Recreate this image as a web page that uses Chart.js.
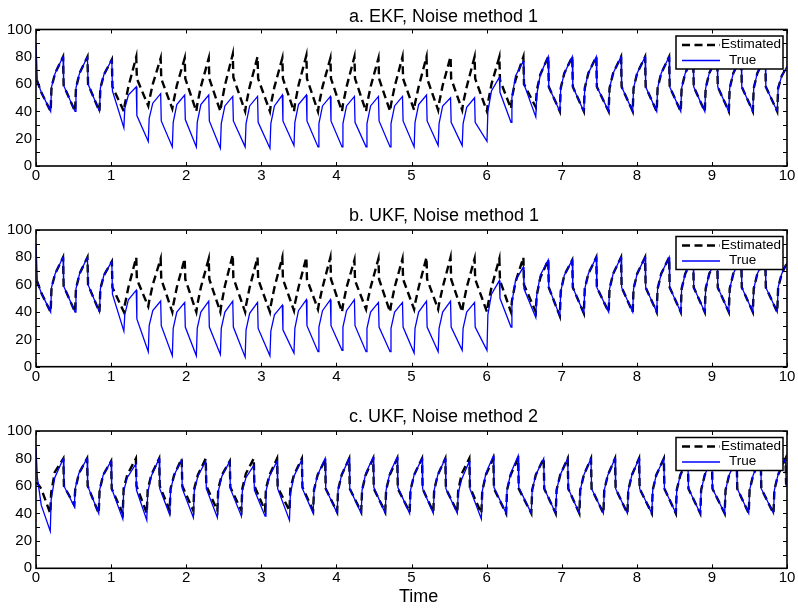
<!DOCTYPE html>
<html>
<head>
<meta charset="utf-8">
<script src="https://cdn.jsdelivr.net/npm/chart.js@4.4.1/dist/chart.umd.min.js"></script>
<style>
  html, body { margin: 0; padding: 0; background: #fff; }
  #wrap { position: relative; width: 798px; height: 608px; overflow: hidden; }
  canvas { position: absolute; left: 0; }
  .cap { position: absolute; font: 18px 'Liberation Sans', Arial, sans-serif; line-height: 18px; color: #000; white-space: nowrap; }
</style>
</head>
<body>
<div id="wrap">
  <canvas id="panelA" width="798" height="200" style="top:0"></canvas>
  <canvas id="panelB" width="798" height="200" style="top:200px"></canvas>
  <canvas id="panelC" width="798" height="208" style="top:400px"></canvas>
  <div class="cap" style="left:349px; top:6.5px">a. EKF, Noise method 1</div>
  <div class="cap" style="left:349px; top:206px">b. UKF, Noise method 1</div>
  <div class="cap" style="left:349px; top:406.5px">c. UKF, Noise method 2</div>
  <div class="cap" style="left:399px; top:586.5px">Time</div>
</div>
<script>
// sample times for panels a and b: per beat -> trough, kick, mid-rise, peak, drop
const timeAB = [
  0, 0.018, 0.07,
  0.195, 0.207, 0.255, 0.36, 0.368,
  0.52, 0.532, 0.58, 0.685, 0.693,
  0.845, 0.857, 0.905, 1.01, 1.018,
  1.17, 1.182, 1.23, 1.335, 1.343,
  1.495, 1.507, 1.555, 1.66, 1.668,
  1.815, 1.827, 1.875, 1.98, 1.988,
  2.135, 2.147, 2.195, 2.30, 2.308,
  2.455, 2.467, 2.515, 2.62, 2.628,
  2.785, 2.797, 2.845, 2.95, 2.958,
  3.115, 3.127, 3.175, 3.28, 3.288,
  3.435, 3.447, 3.495, 3.60, 3.608,
  3.755, 3.767, 3.815, 3.92, 3.928,
  4.075, 4.087, 4.135, 4.24, 4.248,
  4.395, 4.407, 4.455, 4.56, 4.568,
  4.715, 4.727, 4.775, 4.88, 4.888,
  5.035, 5.047, 5.095, 5.20, 5.208,
  5.355, 5.367, 5.415, 5.52, 5.528,
  5.675, 5.687, 5.735, 5.84, 5.848,
  6.005, 6.017, 6.065, 6.17, 6.178,
  6.325, 6.337, 6.385, 6.49, 6.498,
  6.655, 6.667, 6.715, 6.82, 6.828,
  6.975, 6.987, 7.035, 7.14, 7.148,
  7.295, 7.307, 7.355, 7.46, 7.468,
  7.625, 7.637, 7.685, 7.79, 7.798,
  7.945, 7.957, 8.005, 8.11, 8.118,
  8.265, 8.277, 8.325, 8.43, 8.438,
  8.585, 8.597, 8.645, 8.75, 8.758,
  8.905, 8.917, 8.965, 9.07, 9.078,
  9.225, 9.237, 9.285, 9.39, 9.398,
  9.545, 9.557, 9.605, 9.71, 9.718,
  9.87, 9.882, 9.93, 10.0
];

const estA = [
  62, 62, 54,
  40, 58, 68, 80, 59,
  40, 57, 68, 80, 60,
  40, 57, 67, 78, 58,
  40, 45, 58, 80, 64,
  44, 48, 60, 79, 64,
  42, 46, 59, 79, 64,
  40, 45, 58, 79, 64,
  40, 45, 59, 82, 65,
  40, 45, 58, 80, 64,
  40, 45, 58, 79, 64,
  40, 45, 59, 81, 64,
  40, 45, 58, 79, 64,
  40, 45, 58, 80, 64,
  40, 45, 58, 79, 64,
  40, 45, 58, 80, 64,
  41, 46, 58, 80, 64,
  41, 46, 59, 80, 64,
  41, 46, 58, 80, 64,
  40, 46, 60, 80, 63,
  42, 50, 63, 80, 60,
  43, 55, 67, 80, 58,
  40, 57, 68, 80, 58,
  40, 57, 68, 80, 58,
  40, 57, 68, 80, 58,
  40, 57, 68, 80, 58,
  40, 57, 68, 80, 58,
  40, 57, 68, 80, 58,
  40, 57, 68, 80, 58,
  40, 57, 68, 80, 58,
  40, 57, 68, 80, 58,
  40, 57, 66, 73
];

const trueA = [
  90, 62, 54,
  40, 58, 68, 80, 59,
  40, 57, 68, 80, 60,
  40, 57, 67, 78, 55,
  28, 42, 52, 58, 37,
  18, 35, 46, 53, 33,
  14, 32, 45, 52, 34,
  14, 32, 45, 52, 33,
  13, 31, 44, 51, 33,
  14, 31, 44, 51, 32,
  13, 31, 44, 52, 33,
  15, 32, 45, 52, 33,
  14, 31, 44, 51, 33,
  14, 31, 44, 51, 32,
  14, 31, 44, 51, 33,
  14, 31, 44, 51, 33,
  14, 32, 45, 52, 33,
  15, 31, 44, 50, 32,
  15, 31, 43, 50, 32,
  18, 40, 55, 65, 54,
  32, 50, 66, 77, 60,
  36, 52, 67, 80, 58,
  40, 57, 68, 80, 58,
  40, 57, 68, 80, 58,
  40, 57, 68, 80, 58,
  40, 57, 68, 80, 58,
  40, 57, 68, 80, 58,
  40, 57, 68, 80, 58,
  40, 57, 68, 80, 58,
  40, 57, 68, 80, 58,
  40, 57, 68, 80, 58,
  40, 57, 66, 73
];

const estB = [
  62, 62, 54,
  40, 58, 68, 80, 59,
  40, 57, 68, 80, 60,
  40, 57, 67, 77, 58,
  40, 45, 58, 80, 64,
  44, 48, 60, 79, 64,
  40, 45, 58, 79, 64,
  40, 45, 58, 79, 64,
  40, 45, 59, 82, 65,
  40, 45, 58, 80, 64,
  40, 45, 58, 80, 64,
  41, 46, 58, 80, 64,
  42, 46, 58, 80, 64,
  40, 45, 58, 78, 63,
  42, 46, 58, 79, 64,
  40, 45, 58, 79, 64,
  42, 46, 58, 80, 64,
  42, 46, 58, 80, 64,
  40, 45, 58, 79, 64,
  40, 45, 58, 79, 63,
  40, 48, 62, 80, 60,
  40, 52, 65, 78, 58,
  37, 55, 67, 78, 58,
  39, 57, 68, 80, 58,
  40, 57, 68, 80, 58,
  40, 57, 68, 80, 58,
  40, 57, 68, 80, 58,
  40, 57, 68, 80, 58,
  40, 57, 68, 80, 58,
  40, 57, 68, 80, 58,
  40, 57, 68, 80, 58,
  40, 58, 68, 76
];

const trueB = [
  90, 62, 54,
  40, 58, 68, 80, 59,
  40, 57, 68, 80, 60,
  40, 57, 67, 77, 53,
  26, 38, 49, 56, 35,
  11, 30, 41, 48, 30,
  8, 28, 40, 47, 29,
  8, 28, 40, 48, 29,
  9, 28, 40, 48, 29,
  7, 27, 39, 47, 28,
  8, 26, 38, 45, 27,
  10, 28, 41, 49, 30,
  11, 29, 41, 49, 30,
  12, 29, 41, 49, 30,
  11, 28, 40, 47, 29,
  11, 28, 40, 47, 29,
  10, 28, 40, 48, 29,
  11, 28, 40, 48, 29,
  12, 28, 40, 47, 29,
  12, 38, 53, 63, 50,
  29, 47, 63, 73, 57,
  36, 52, 67, 78, 58,
  37, 55, 67, 78, 58,
  39, 57, 68, 80, 58,
  40, 57, 68, 80, 58,
  40, 57, 68, 80, 58,
  40, 57, 68, 80, 58,
  40, 57, 68, 80, 58,
  40, 57, 68, 80, 58,
  40, 57, 68, 80, 58,
  40, 57, 68, 80, 58,
  40, 58, 68, 76
];

// panel c runs at a slightly faster beat, so it has its own time base
const timeC = [
  0, 0.018, 0.07,
  0.19, 0.202, 0.25, 0.364, 0.372,
  0.51, 0.522, 0.57, 0.68, 0.688,
  0.835, 0.847, 0.895, 1.0, 1.008,
  1.155, 1.167, 1.215, 1.33, 1.338,
  1.475, 1.487, 1.535, 1.64, 1.648,
  1.78, 1.792, 1.84, 1.94, 1.948,
  2.095, 2.107, 2.155, 2.26, 2.268,
  2.415, 2.427, 2.475, 2.58, 2.588,
  2.735, 2.747, 2.795, 2.90, 2.908,
  3.05, 3.062, 3.11, 3.21, 3.218,
  3.375, 3.387, 3.435, 3.54, 3.548,
  3.69, 3.702, 3.75, 3.85, 3.858,
  4.01, 4.022, 4.07, 4.17, 4.178,
  4.33, 4.342, 4.39, 4.49, 4.498,
  4.65, 4.662, 4.71, 4.81, 4.818,
  4.975, 4.987, 5.035, 5.14, 5.148,
  5.29, 5.302, 5.35, 5.45, 5.458,
  5.61, 5.622, 5.67, 5.77, 5.778,
  5.93, 5.942, 5.99, 6.09, 6.098,
  6.26, 6.272, 6.32, 6.42, 6.428,
  6.595, 6.607, 6.655, 6.76, 6.768,
  6.92, 6.932, 6.98, 7.08, 7.088,
  7.235, 7.247, 7.295, 7.39, 7.398,
  7.555, 7.567, 7.615, 7.71, 7.718,
  7.875, 7.887, 7.935, 8.03, 8.038,
  8.2, 8.212, 8.26, 8.36, 8.368,
  8.52, 8.532, 8.58, 8.68, 8.688,
  8.845, 8.857, 8.905, 9.0, 9.008,
  9.17, 9.182, 9.23, 9.33, 9.338,
  9.49, 9.502, 9.55, 9.65, 9.658,
  9.82, 9.832, 9.88, 9.98, 9.988, 10.0
];

const estC = [
  62, 62, 58,
  40, 55, 70, 80, 60,
  46, 57, 69, 80, 60,
  40, 57, 68, 78, 58,
  40, 58, 68, 80, 60,
  40, 57, 68, 80, 60,
  42, 58, 68, 80, 60,
  42, 58, 68, 80, 60,
  42, 58, 68, 78, 59,
  42, 58, 69, 80, 60,
  42, 58, 68, 80, 59,
  42, 58, 68, 80, 59,
  42, 57, 68, 79, 58,
  41, 57, 68, 80, 58,
  41, 57, 68, 80, 58,
  41, 57, 68, 80, 58,
  41, 57, 68, 80, 58,
  41, 57, 68, 80, 58,
  41, 57, 69, 80, 59,
  40, 56, 68, 80, 58,
  40, 57, 68, 80, 58,
  40, 57, 68, 80, 58,
  40, 57, 68, 80, 58,
  40, 57, 68, 80, 58,
  40, 57, 68, 80, 58,
  40, 57, 68, 80, 58,
  40, 57, 68, 80, 58,
  40, 57, 68, 80, 58,
  40, 57, 68, 80, 58,
  40, 57, 68, 80, 58,
  40, 57, 68, 80, 58,
  40, 57, 68, 80, 62, 60
];

const trueC = [
  88, 66, 46,
  27, 50, 66, 80, 60,
  45, 58, 69, 80, 60,
  40, 57, 68, 78, 58,
  36, 56, 66, 76, 57,
  35, 55, 67, 80, 58,
  39, 57, 68, 79, 58,
  37, 56, 67, 78, 58,
  37, 56, 67, 78, 58,
  38, 56, 66, 75, 57,
  38, 56, 67, 78, 58,
  35, 54, 67, 79, 58,
  40, 57, 68, 80, 58,
  40, 57, 68, 80, 58,
  40, 57, 69, 81, 59,
  40, 57, 69, 81, 59,
  40, 57, 68, 80, 58,
  40, 57, 68, 80, 58,
  40, 55, 65, 78, 58,
  36, 56, 69, 82, 59,
  40, 57, 69, 82, 59,
  40, 57, 68, 80, 58,
  40, 57, 68, 80, 58,
  40, 57, 68, 80, 58,
  40, 57, 68, 80, 58,
  40, 57, 68, 80, 58,
  40, 57, 68, 80, 58,
  40, 57, 68, 80, 58,
  40, 57, 68, 80, 58,
  40, 57, 68, 80, 58,
  40, 57, 68, 80, 58,
  40, 57, 68, 80, 62, 60
];

const timeTicks = [0, 1, 2, 3, 4, 5, 6, 7, 8, 9, 10];
const levelTicks = [0, 10, 20, 30, 40, 50, 60, 70, 80, 90, 100];
const seriesNames = ["Estimated", "True"];

Chart.defaults.font.family = "'Liberation Sans', Arial, sans-serif";
Chart.defaults.color = "#000";

const pairUp = (xs, ys) => xs.map((t, i) => ({ x: t, y: ys[i] }));

// matlab style box: frame, inward ticks on all four sides, legend in the corner
const boxAxes = {
    id: "boxAxes",
    afterDraw(chart) {
        const { ctx, chartArea: a, scales: { x, y } } = chart;
        ctx.save();

        ctx.strokeStyle = "#000";
        ctx.lineWidth = 1;
        ctx.beginPath();
        timeTicks.forEach((v) => {
            const px = Math.round(x.getPixelForValue(v)) + 0.5;
            ctx.moveTo(px, a.top); ctx.lineTo(px, a.top + 4);
            ctx.moveTo(px, a.bottom); ctx.lineTo(px, a.bottom - 4);
        });
        levelTicks.forEach((v) => {
            const py = Math.round(y.getPixelForValue(v)) + 0.5;
            ctx.moveTo(a.left, py); ctx.lineTo(a.left + 4, py);
            ctx.moveTo(a.right, py); ctx.lineTo(a.right - 4, py);
        });
        ctx.stroke();

        ctx.lineWidth = 1.6;
        ctx.strokeRect(a.left, a.top, a.right - a.left, a.bottom - a.top);

        // legend
        const w = 107, h = 33, lx = a.right - 4 - w, ly = a.top + 6.5;
        ctx.fillStyle = "#fff";
        ctx.fillRect(lx, ly, w, h);
        ctx.lineWidth = 1.5;
        ctx.strokeRect(lx, ly, w, h);

        ctx.lineWidth = 2.3;
        ctx.setLineDash([8, 4.5]);
        ctx.beginPath();
        ctx.moveTo(lx + 6, ly + 9); ctx.lineTo(lx + 44, ly + 9);
        ctx.stroke();
        ctx.setLineDash([]);
        ctx.strokeStyle = "#0000ff";
        ctx.lineWidth = 1.3;
        ctx.beginPath();
        ctx.moveTo(lx + 6, ly + 24.5); ctx.lineTo(lx + 44, ly + 24.5);
        ctx.stroke();

        ctx.beginPath();
        ctx.rect(lx, ly, w - 1, h);
        ctx.clip();
        ctx.fillStyle = "#000";
        ctx.font = "13.5px 'Liberation Sans', Arial, sans-serif";
        ctx.textBaseline = "middle";
        ctx.fillText(seriesNames[0], lx + 45, ly + 8.5);
        ctx.fillText(seriesNames[1], lx + 53, ly + 24);

        ctx.restore();
    }
};

function makePanel(id, times, est, tru, padTop, xHeight) {
    return new Chart(document.getElementById(id), {
        type: "line",
        data: {
            datasets: [{
                label: seriesNames[0],
                data: pairUp(times, est),
                borderColor: "#000",
                borderWidth: 2.4,
                borderDash: [8, 4.5],
                pointRadius: 0,
                tension: 0,
                order: 1
            }, {
                label: seriesNames[1],
                data: pairUp(times, tru),
                borderColor: "#0000ff",
                borderWidth: 1.3,
                pointRadius: 0,
                tension: 0,
                order: 0
            }]
        },
        options: {
            responsive: false,
            animation: false,
            layout: { padding: { top: padTop, right: 11, left: 0, bottom: 0 } },
            scales: {
                x: {
                    type: "linear",
                    min: 0,
                    max: 10,
                    grid: { display: false, drawTicks: false },
                    border: { display: false },
                    ticks: { stepSize: 1, maxRotation: 0, padding: 1, font: { size: 15 } },
                    afterFit: (s) => { s.height = xHeight; }
                },
                y: {
                    min: 0,
                    max: 100,
                    grid: { display: false, drawTicks: false },
                    border: { display: false },
                    ticks: { stepSize: 20, padding: 4, font: { size: 15 } },
                    afterFit: (s) => { s.width = 36; }
                }
            },
            plugins: {
                legend: { display: false },
                tooltip: { enabled: false }
            }
        },
        plugins: [boxAxes]
    });
}

makePanel("panelA", timeAB, estA, trueA, 29.5, 34);
makePanel("panelB", timeAB, estB, trueB, 30, 33.3);
makePanel("panelC", timeC, estC, trueC, 31, 39.7);
</script>
</body>
</html>
